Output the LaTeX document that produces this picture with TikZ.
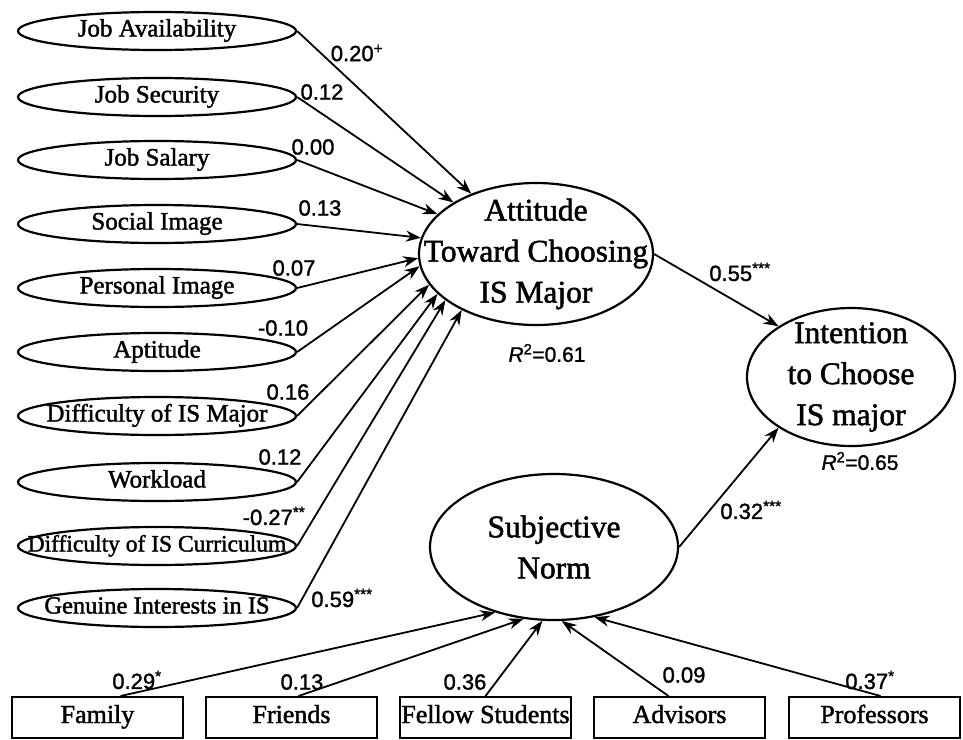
\documentclass[tikz,border=0pt]{standalone}
\usepackage{fontspec}
\setmainfont{Liberation Serif}
\newfontfamily\serifb[FakeBold=1.6]{Liberation Serif}
\newfontfamily\numfont[FakeBold=1.4]{Liberation Sans}
\usetikzlibrary{arrows.meta,calc,shapes.geometric}
\begin{document}
\begin{tikzpicture}[x=1pt,y=-1pt,
  smallell/.style={draw, ellipse, line width=2.2pt, minimum width=278pt, minimum height=38pt, inner sep=0pt},
  bigell/.style={draw, ellipse, line width=2.2pt, inner sep=0pt},
  stxt/.style={font=\serifb\fontsize{25}{27}\selectfont, inner sep=0pt, text height=17pt, text depth=6pt},
  btxt/.style={font=\serifb\fontsize{31.5}{41}\selectfont, align=center, inner sep=0pt},
  boxnode/.style={draw, rectangle, line width=2pt, minimum width=171pt, minimum height=41pt, inner sep=0pt},
  btext/.style={font=\serifb\fontsize{26}{28}\selectfont, inner sep=0pt, text height=17pt, text depth=6pt},
  coef/.style={font=\numfont\fontsize{22}{24}\selectfont, inner sep=0pt},
  rsq/.style={font=\numfont\fontsize{21}{23}\selectfont, inner sep=0pt},
  arr/.style={line width=1.8pt, -{Stealth[length=15pt,width=11pt]}},
]
\useasboundingbox (0,0) rectangle (963,739);

% left ellipses
\node[smallell, label={[stxt]center:Job Availability}] (e1) at (157,31) {};
\node[smallell, label={[stxt]center:Job Security}] (e2) at (157,97) {};
\node[smallell, label={[stxt]center:Job Salary}] (e3) at (157,160) {};
\node[smallell, label={[stxt]center:Social Image}] (e4) at (157,224) {};
\node[smallell, label={[stxt]center:Personal Image}] (e5) at (157,288) {};
\node[smallell, label={[stxt]center:Aptitude}] (e6) at (157,352) {};
\node[smallell, label={[stxt]center:Difficulty of IS Major}] (e7) at (157,416) {};
\node[smallell, label={[stxt]center:Workload}] (e8) at (157,482) {};
\node[smallell, label={[stxt, font=\serifb\fontsize{23.5}{25}\selectfont]center:Difficulty of IS Curriculum}] (e9) at (157,546) {};
\node[smallell, label={[stxt, font=\serifb\fontsize{24.5}{26}\selectfont]center:Genuine Interests in IS}] (e10) at (157,608) {};

% central constructs
\node[bigell, minimum width=234pt, minimum height=142pt] (att) at (536,254) {};
\node[btxt] (atttxt) at (att.center) {Attitude\\Toward Choosing\\IS Major};
\node[bigell, minimum width=208pt, minimum height=138pt] (int) at (851,377) {};
\node[btxt] (inttxt) at (int.center) {Intention\\to Choose\\IS major};
\node[bigell, minimum width=248pt, minimum height=146pt] (sn) at (554,547) {};
\node[btxt] (sntxt) at (sn.center) {Subjective\\Norm};

% boxes
\node[boxnode, label={[btext]center:Family}] (b1) at (97.5,717.5) {};
\node[boxnode, label={[btext]center:Friends}] (b2) at (291.5,717.5) {};
\node[boxnode, label={[btext]center:Fellow Students}] (b3) at (485.5,717.5) {};
\node[boxnode, label={[btext]center:Advisors}] (b4) at (679.5,717.5) {};
\node[boxnode, label={[btext]center:Professors}] (b5) at (874.5,717.5) {};

% arrows into attitude
\draw[arr] (e1.east) -- (att.137);
\draw[arr] (e2.east) -- (att.148);
\draw[arr] (e3.east) -- (att.158);
\draw[arr] (e4.east) -- (att.172);
\draw[arr] (e5.east) -- (att.182);
\draw[arr] (e6.east) -- (att.186);
\draw[arr] (e7.east) -- (att.196);
\draw[arr] (e8.east) -- (att.202);
\draw[arr] (e9.east) -- (att.207);
\draw[arr] (e10.east) -- (att.217);

% arrows into subjective norm
\coordinate (b1t) at ($(b1.north)+(23,0)$);
\coordinate (b2t) at ($(b2.north)+(7,0)$);
\coordinate (b3t) at ($(b3.north)+(0,0)$);
\coordinate (b4t) at ($(b4.north)+(-11,0)$);
\coordinate (b5t) at ($(b5.north)+(6,0)$);
\draw[arr] (b1t) -- (sn.228);
\draw[arr] (b2t) -- (sn.247);
\draw[arr] (b3t) -- (sn.261);
\draw[arr] (b4t) -- (sn.276);
\draw[arr] (b5t) -- (sn.300);

% arrows into intention
\draw[arr] (att.east) -- (int.145);
\draw[arr] (sn.east) -- (int.215);

% coefficients
\node[coef] (l1) at (357,53) {0.20\textsuperscript{+}};
\node[coef] (l2) at (322,92) {0.12};
\node[coef] (l3) at (313,147) {0.00};
\node[coef] (l4) at (320,208) {0.13};
\node[coef] (l5) at (294,268) {0.07};
\node[coef] (l6) at (283,328) {-0.10};
\node[coef] (l7) at (288,392) {0.16};
\node[coef] (l8) at (280,457) {0.12};
\node[coef] (l9) at (274,516) {-0.27\textsuperscript{**}};
\node[coef] (l10) at (342,598) {0.59\textsuperscript{***}};
\node[coef] (l11) at (740,272) {0.55\textsuperscript{***}};
\node[coef] (l12) at (751,510) {0.32\textsuperscript{***}};
\node[coef] (l13) at (137,680) {0.29\textsuperscript{*}};
\node[coef] (l14) at (302,682) {0.13};
\node[coef] (l15) at (465,682) {0.36};
\node[coef] (l16) at (684,675) {0.09};
\node[coef] (l17) at (870,680) {0.37\textsuperscript{*}};
\node[rsq] (r1) at (547,353) {\textit{R}\textsuperscript{2}=0.61};
\node[rsq] (r2) at (860,461) {\textit{R}\textsuperscript{2}=0.65};
\end{tikzpicture}
\end{document}
